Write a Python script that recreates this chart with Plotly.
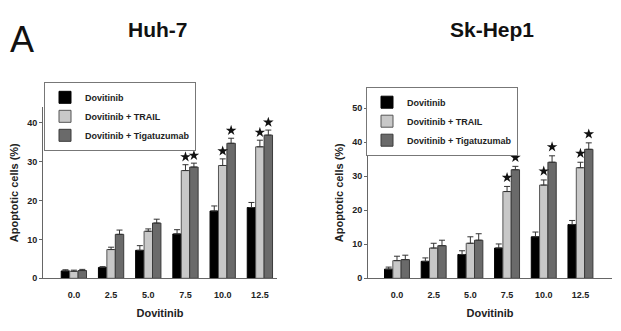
import plotly.graph_objects as go

doses = ["0.0", "2.5", "5.0", "7.5", "10.0", "12.5"]
series_names = ["Dovitinib", "Dovitinib + TRAIL", "Dovitinib + Tigatuzumab"]

# Huh-7 panel
huh7_dov = [1.9, 2.8, 7.2, 11.4, 17.3, 18.2]
huh7_dov_err = [0.3, 0.2, 1.2, 1.1, 1.3, 1.3]
huh7_trail = [1.8, 7.4, 12.1, 27.7, 29.0, 33.8]
huh7_trail_err = [0.3, 0.6, 0.6, 1.5, 1.7, 1.7]
huh7_tiga = [2.0, 11.3, 14.2, 28.6, 34.7, 36.8]
huh7_tiga_err = [0.3, 1.1, 1.0, 1.0, 1.3, 1.3]
huh7_sig_trail = [False, False, False, True, True, True]
huh7_sig_tiga = [False, False, False, True, True, True]

# Sk-Hep1 panel
sk_dov = [2.7, 5.0, 7.0, 8.9, 12.2, 15.8]
sk_dov_err = [0.6, 1.0, 1.1, 1.2, 1.4, 1.2]
sk_trail = [5.2, 8.9, 10.3, 25.5, 27.4, 32.5]
sk_trail_err = [1.3, 1.4, 1.9, 1.5, 1.5, 1.6]
sk_tiga = [5.5, 9.6, 11.2, 31.9, 34.1, 37.9]
sk_tiga_err = [1.3, 1.6, 1.9, 1.0, 1.9, 1.9]
sk_sig_trail = [False, False, False, True, True, True]
sk_sig_tiga = [False, False, False, True, True, True]

fills = ["#000000", "#c8c8c8", "#6a6a6a"]
lines = ["#000000", "#555555", "#3a3a3a"]
FONT = "Liberation Sans, Arial, sans-serif"

fig = go.Figure()

panels = [
    ("x", "y", "legend", [huh7_dov, huh7_trail, huh7_tiga],
     [huh7_dov_err, huh7_trail_err, huh7_tiga_err],
     [[False] * 6, huh7_sig_trail, huh7_sig_tiga], 2.0),
    ("x2", "y2", "legend2", [sk_dov, sk_trail, sk_tiga],
     [sk_dov_err, sk_trail_err, sk_tiga_err],
     [[False] * 6, sk_sig_trail, sk_sig_tiga], 2.6),
]

for xa, ya, leg, vals, errs, sigs, pad in panels:
    for k in range(3):
        fig.add_trace(go.Bar(
            x=doses, y=vals[k], name=series_names[k], legend=leg,
            xaxis=xa, yaxis=ya, offsetgroup=str(k),
            marker=dict(color=fills[k], line=dict(color=lines[k], width=1)),
            error_y=dict(type="data", array=errs[k], arrayminus=[0] * 6,
                         symmetric=False, color="#333333", thickness=1, width=3),
        ))
    for k in range(3):
        ys = [v + e + pad if s else None for v, e, s in zip(vals[k], errs[k], sigs[k])]
        fig.add_trace(go.Scatter(
            x=doses, y=ys, mode="markers", xaxis=xa, yaxis=ya,
            offsetgroup=str(k), showlegend=False, hoverinfo="skip",
            marker=dict(symbol="star", size=8, color="#111111"),
        ))

axis_common = dict(
    showline=True, linecolor="#666666", linewidth=1, showgrid=False,
    zeroline=False, tickfont=dict(family=FONT, size=9, color="#222222", weight="bold"),
)
title_font = dict(family=FONT, size=11, color="#222222", weight="bold")
legend_common = dict(xanchor="left", yanchor="top", bgcolor="white",
                     bordercolor="#777777", borderwidth=1,
                     font=dict(family=FONT, size=9, color="#222222", weight="bold"),
                     tracegroupgap=0, itemwidth=30)

fig.update_layout(
    width=621, height=331, margin=dict(l=0, r=0, t=0, b=0),
    paper_bgcolor="white", plot_bgcolor="white",
    barmode="group", bargap=0.32, bargroupgap=0,
    scattermode="group", scattergap=0.32,
    xaxis=dict(domain=[43 / 621, 277 / 621], type="category", range=[-0.83, 5.46],
               ticks="", anchor="y", ticklabelstandoff=8,
               title=dict(text="Dovitinib", standoff=10, font=title_font),
               **axis_common),
    yaxis=dict(domain=[1 - 282 / 331, 1 - 106 / 331], range=[0, 44], anchor="x",
               tickvals=[0, 10, 20, 30, 40], ticks="outside", ticklen=3, tickcolor="#666666",
               title=dict(text="Apoptotic cells (%)", standoff=6, font=title_font),
               **axis_common),
    xaxis2=dict(domain=[368 / 621, 612 / 621], type="category", range=[-0.79, 5.86],
                ticks="", anchor="y2", ticklabelstandoff=8,
                title=dict(text="Dovitinib", standoff=10, font=title_font),
                **axis_common),
    yaxis2=dict(domain=[1 - 282 / 331, 1 - 106 / 331], range=[0, 50.3], anchor="x2",
                tickvals=[0, 10, 20, 30, 40, 50], ticks="outside", ticklen=3, tickcolor="#666666",
                title=dict(text="Apoptotic cells (%)", standoff=6, font=title_font),
                **axis_common),
    legend=dict(x=44 / 621, y=1 - 80 / 331, **legend_common),
    legend2=dict(x=366 / 621, y=1 - 85 / 331, **legend_common),
    annotations=[
        dict(text="A", x=22 / 621, y=1 - 37 / 331, xref="paper", yref="paper",
             showarrow=False, xanchor="center", yanchor="middle",
             font=dict(family=FONT, size=36, color="#111111")),
        dict(text="Huh-7", x=158 / 621, y=1 - 26 / 331, xref="paper", yref="paper",
             showarrow=False, xanchor="center", yanchor="middle",
             font=dict(family=FONT, size=21, color="#111111", weight="bold")),
        dict(text="Sk-Hep1", x=492 / 621, y=1 - 26 / 331, xref="paper", yref="paper",
             showarrow=False, xanchor="center", yanchor="middle",
             font=dict(family=FONT, size=21, color="#111111", weight="bold")),
    ],
)

fig.write_html("out.html")
